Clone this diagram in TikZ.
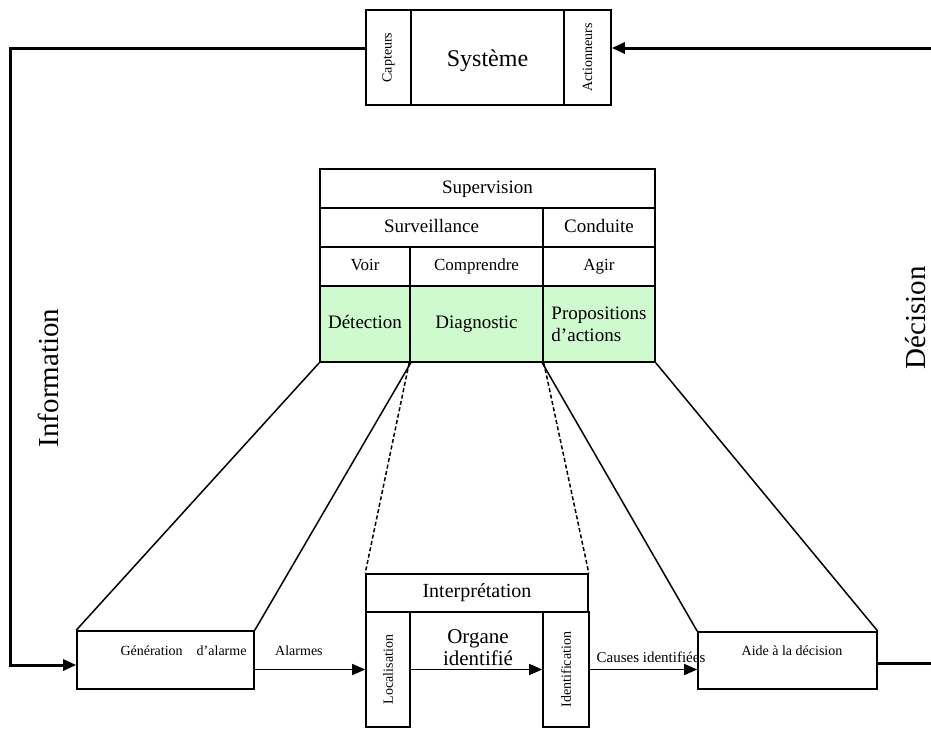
\documentclass[tikz,border=0pt]{standalone}
\usepackage{fontspec}
\setmainfont{Liberation Serif}
\usetikzlibrary{arrows.meta}
\definecolor{vertclair}{RGB}{206,250,206}

\begin{document}
\begin{tikzpicture}[
  x=1pt, y=-1pt,
  line width=1.6pt,
  >={Triangle[length=13pt,width=11pt]},
  boite/.style={draw, inner sep=0pt},
  cell/.style={draw, inner sep=0pt, minimum height=39pt, font=\fontsize{19}{22}\selectfont, text height=13pt, text depth=4pt},
  mince/.style={cell, font=\fontsize{17}{20}\selectfont, text height=12pt, text depth=3.5pt},
  petit/.style={font=\fontsize{14}{16}\selectfont},
  vert/.style={cell, fill=vertclair, minimum height=76pt},
  arr/.style={->, line width=1.6pt},
  retour/.style={line width=3pt},
  lien/.style={line width=1.5pt}
]
\useasboundingbox (0,0) rectangle (931,729);

\node[boite, minimum width=153pt, minimum height=95pt, font=\fontsize{24}{28}\selectfont, text height=17pt, text depth=0pt] (sys) at (487.5,57.5) {Système};
\node[boite, minimum width=45pt, minimum height=95pt, petit] (capt) at (388.5,57.5) {\rotatebox{90}{Capteurs}};
\node[boite, minimum width=47pt, minimum height=95pt, petit] (act) at (587.5,57.5) {\rotatebox{90}{Actionneurs}};

\node[cell, minimum width=335pt] (superv) at (487.5,188.5) {Supervision};
\node[cell, minimum width=223pt] (surv) at (431.5,227.5) {Surveillance};
\node[cell, minimum width=112pt] (cond) at (599,227.5) {Conduite};
\node[mince, minimum width=90pt] (voir) at (365,266.5) {Voir};
\node[mince, minimum width=133pt] (compr) at (476.5,266.5) {Comprendre};
\node[mince, minimum width=112pt] (agir) at (599,266.5) {Agir};
\node[vert, minimum width=90pt] (detect) at (365,324) {Détection};
\node[vert, minimum width=133pt] (diag) at (476.5,324) {Diagnostic};
\node[vert, minimum width=112pt, align=left, text height=, text depth=] (propo) at (599,324) {Propositions\\d’actions};

\node[boite, minimum width=177pt, minimum height=58pt,
  label={[petit, xshift=18pt, yshift=9pt]center:Génération\quad d’alarme}] (gen) at (165.5,660) {};
\node[boite, minimum width=222pt, minimum height=38pt, font=\fontsize{20}{24}\selectfont] (interp) at (477,593) {Interprétation};
\node[boite, minimum width=44pt, minimum height=115pt, petit] (loc) at (388,669.5) {\rotatebox{90}{Localisation}};
\node[boite, minimum width=46pt, minimum height=115pt, petit] (ident) at (566,669.5) {\rotatebox{90}{Identification}};
\node[align=center, font=\fontsize{21}{22}\selectfont] (organe) at (478,648) {Organe\\identifié};
\node[boite, minimum width=179pt, minimum height=57pt,
  label={[petit, xshift=4.5pt, yshift=9.5pt]center:Aide à la décision}] (aide) at (787.5,660.5) {};

\node[rotate=90, anchor=base, font=\fontsize{29}{32}\selectfont] (info) at (58,378) {Information};
\node[rotate=90, anchor=base, font=\fontsize{29}{32}\selectfont] (decis) at (925,318) {Décision};

\coordinate (infoH) at (10,48);
\coordinate (infoB) at (10,665);
\coordinate (decH) at (931,48);
\coordinate (decB) at (931,663);

\draw[lien] (detect.south west) -- (gen.north west);
\draw[lien] (detect.south east) -- (gen.north east);
\draw[lien, dash pattern=on 4pt off 2.5pt] (diag.south west) -- (interp.north west);
\draw[lien, dash pattern=on 4pt off 2.5pt] (diag.south east) -- (interp.north east);
\draw[lien] (propo.south west) -- (aide.north west);
\draw[lien] (propo.south east) -- (aide.north east);

\draw[arr] (gen.east |- loc.west) -- node[pos=0.4, above=13pt, inner sep=0pt, petit] (alarm) {Alarmes} (loc.west);
\draw[arr] (loc.east) -- (ident.west);
\draw[arr] (ident.east) -- node[pos=0.57, above=6.5pt, inner sep=0pt, font=\fontsize{15}{17}\selectfont] (causes) {Causes identifiées} (ident.east -| aide.west);

\draw[retour, ->] (capt.west |- infoH) -- (infoH) -- (infoB) -- (gen.west |- infoB);
\draw[retour] (aide.east |- decB) -- (decB);
\draw[retour, ->] (decH) -- (act.east |- decH);
\end{tikzpicture}
\end{document}
